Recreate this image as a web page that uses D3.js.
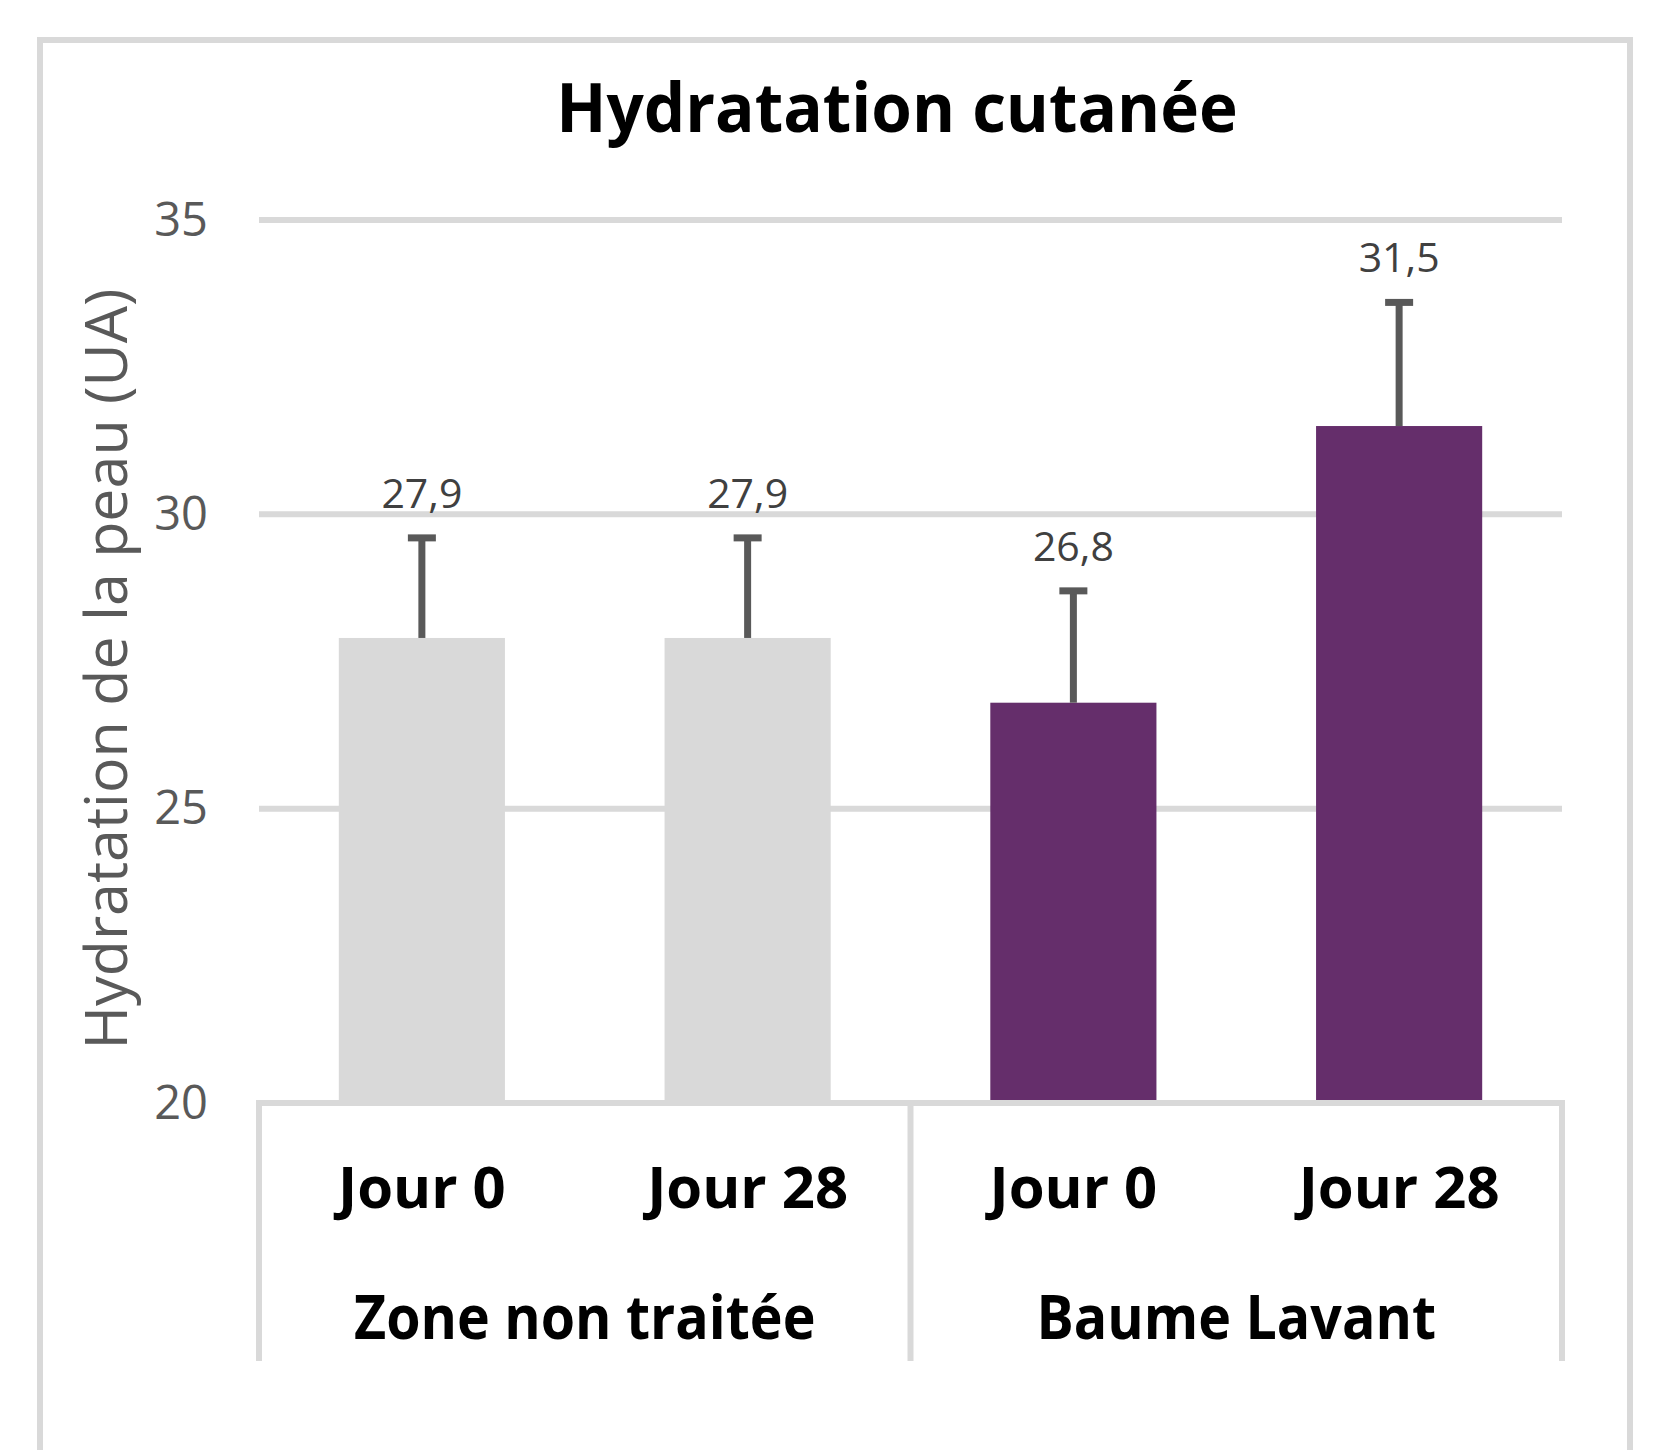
<!DOCTYPE html>
<html>
<head>
<meta charset="utf-8">
<script src="https://cdn.jsdelivr.net/npm/d3@7"></script>
<style>
  body { margin: 0; background: #fff; }
  text { font-family: "Open Sans", sans-serif; }
</style>
</head>
<body>
<div id="chart"></div>
<script>
// data
const groups = ["Zone non traitée", "Baume Lavant"];
const days = ["Jour 0", "Jour 28", "Jour 0", "Jour 28"];
const barGroup = [0, 0, 1, 1];
const means = [27.9, 27.9, 26.8, 31.5];
const errors = [1.7, 1.7, 1.9, 2.1];
const yTicks = [20, 25, 30, 35];
const colors = ["#d9d9d9", "#652e6b"];

let width = 1658, height = 1450;
let plotLeft = 259, plotRight = 1562;
let plotTop = 220, plotBottom = 1103;
let catBottom = 1361;

var svg = d3.select("#chart").append("svg")
  .attr("width", width)
  .attr("height", height);

// squeeze a text a little (the original font is narrower than Open Sans)
function squeeze(sel, k) {
  sel.each(function() {
    let w = this.getComputedTextLength();
    d3.select(this)
      .attr("textLength", w * k)
      .attr("lengthAdjust", "spacingAndGlyphs");
  });
}

// outer frame
svg.append("rect")
  .attr("x", 40).attr("y", 40)
  .attr("width", 1590).attr("height", 1500)
  .attr("fill", "none")
  .attr("stroke", "#d9d9d9")
  .attr("stroke-width", 6);

let keys = d3.range(means.length);
let xScale = d3.scaleBand()
  .domain(keys)
  .range([plotLeft, plotRight])
  .paddingInner(0.49)
  .paddingOuter(0.245);
let yScale = d3.scaleLinear()
  .domain([20, 35])
  .range([plotBottom, plotTop]);

// gridlines
svg.append("g").selectAll("line")
  .data(yTicks.filter(t => t > 20))
  .enter().append("line")
  .attr("x1", plotLeft).attr("x2", plotRight)
  .attr("y1", d => yScale(d)).attr("y2", d => yScale(d))
  .attr("stroke", "#d9d9d9")
  .attr("stroke-width", 6);

// y tick labels
let yAxis = svg.append("g")
  .attr("transform", `translate(${plotLeft}, 0)`)
  .call(d3.axisLeft(yScale).tickValues(yTicks).tickSize(0).tickPadding(51));
yAxis.select(".domain").remove();
yAxis.selectAll("text")
  .attr("font-family", "Open Sans")
  .attr("font-size", 47)
  .attr("fill", "#595959");

// bars
svg.append("g").selectAll("rect")
  .data(keys)
  .enter().append("rect")
  .attr("x", i => xScale(i))
  .attr("y", i => yScale(means[i]))
  .attr("width", xScale.bandwidth())
  .attr("height", i => plotBottom - yScale(means[i]))
  .attr("fill", i => colors[barGroup[i]]);

// error bars (plus only)
let eb = svg.append("g").selectAll("g")
  .data(keys)
  .enter().append("g")
  .attr("transform", i => `translate(${xScale(i) + xScale.bandwidth() / 2}, 0)`);
eb.append("line")
  .attr("x1", 0).attr("x2", 0)
  .attr("y1", i => yScale(means[i]))
  .attr("y2", i => yScale(means[i] + errors[i]))
  .attr("stroke", "#595959")
  .attr("stroke-width", 7);
eb.append("line")
  .attr("x1", -14).attr("x2", 14)
  .attr("y1", i => yScale(means[i] + errors[i]))
  .attr("y2", i => yScale(means[i] + errors[i]))
  .attr("stroke", "#595959")
  .attr("stroke-width", 7);

// value labels
svg.append("g").selectAll("text")
  .data(keys)
  .enter().append("text")
  .attr("x", i => xScale(i) + xScale.bandwidth() / 2)
  .attr("y", i => yScale(means[i] + errors[i]) - 30)
  .attr("text-anchor", "middle")
  .attr("font-size", 41)
  .attr("fill", "#404040")
  .text(i => d3.format(".1f")(means[i]).replace(".", ","));

// category axis (two levels)
let catAxis = svg.append("g")
  .attr("stroke", "#d9d9d9")
  .attr("stroke-width", 6);
catAxis.append("line")
  .attr("x1", plotLeft - 3).attr("x2", plotRight + 3)
  .attr("y1", plotBottom).attr("y2", plotBottom);
let groupEdges = [plotLeft, (xScale(1) + xScale.bandwidth() + xScale(2)) / 2, plotRight];
catAxis.selectAll(".sep")
  .data(groupEdges)
  .enter().append("line")
  .attr("class", "sep")
  .attr("x1", d => d).attr("x2", d => d)
  .attr("y1", plotBottom).attr("y2", catBottom);

svg.append("g").selectAll("text")
  .data(keys)
  .enter().append("text")
  .attr("x", i => xScale(i) + xScale.bandwidth() / 2)
  .attr("y", 1208)
  .attr("text-anchor", "middle")
  .attr("font-size", 58)
  .attr("font-weight", "bold")
  .attr("fill", "#000")
  .text(i => days[i]);

svg.append("g").selectAll("text")
  .data(groups)
  .enter().append("text")
  .attr("x", (d, g) => (groupEdges[g] + groupEdges[g + 1]) / 2)
  .attr("y", 1339)
  .attr("text-anchor", "middle")
  .attr("font-size", 60)
  .attr("font-weight", "bold")
  .attr("fill", "#000")
  .text(d => d)
  .call(squeeze, 0.925);

// y axis title
svg.append("text")
  .attr("transform", "rotate(-90)")
  .attr("x", -669)
  .attr("y", 127)
  .attr("text-anchor", "middle")
  .attr("font-size", 58)
  .attr("fill", "#595959")
  .text("Hydratation de la peau (UA)")
  .call(squeeze, 1.02);

// chart title
svg.append("text")
  .attr("x", 897)
  .attr("y", 132)
  .attr("text-anchor", "middle")
  .attr("font-size", 68)
  .attr("font-weight", "bold")
  .attr("fill", "#000")
  .text("Hydratation cutanée")
  .call(squeeze, 0.965);
</script>
</body>
</html>
